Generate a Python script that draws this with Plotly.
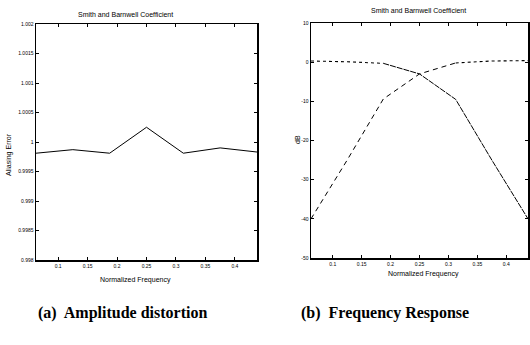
import plotly.graph_objects as go

freq = [0.0625, 0.125, 0.1875, 0.25, 0.3125, 0.375, 0.4375]
aliasing_error = [0.99981, 0.99987, 0.99981, 1.00025, 0.99981, 0.99990, 0.99983]
lowpass_db = [0.3, 0.1, -0.3, -3.0, -9.5, -25.0, -40.0]
highpass_db = [-40.0, -25.0, -9.4, -3.0, -0.2, 0.3, 0.4]

x_ticks = [0.1, 0.15, 0.2, 0.25, 0.3, 0.35, 0.4]
x_ticktext = ["0.1", "0.15", "0.2", "0.25", "0.3", "0.35", "0.4"]
yl_ticks = [0.998, 0.9985, 0.999, 0.9995, 1.0, 1.0005, 1.001, 1.0015, 1.002]
yl_ticktext = ["0.998", "0.9985", "0.999", "0.9995", "1", "1.0005", "1.001", "1.0015", "1.002"]
yr_ticks = [-50, -40, -30, -20, -10, 0, 10]
yr_ticktext = ["-50", "-40", "-30", "-20", "-10", "0", "10"]

W, H = 530, 345
def px(x):
    return x / W
def py(y):
    return 1 - y / H

fig = go.Figure()
fig.add_trace(go.Scatter(x=freq, y=aliasing_error, mode="lines",
                         line=dict(color="black", width=1.0),
                         xaxis="x", yaxis="y", showlegend=False))
# lowpass: dotted near 0 dB, near-solid when falling
fig.add_trace(go.Scatter(x=freq[:3], y=lowpass_db[:3], mode="lines",
                         line=dict(color="black", width=1.1, dash="dot"),
                         xaxis="x2", yaxis="y2", showlegend=False))
fig.add_trace(go.Scatter(x=freq[2:], y=lowpass_db[2:], mode="lines",
                         line=dict(color="black", width=1.0, dash="6px,1px"),
                         xaxis="x2", yaxis="y2", showlegend=False))
# highpass: dashed when rising, dotted near 0 dB
fig.add_trace(go.Scatter(x=freq[:5], y=highpass_db[:5], mode="lines",
                         line=dict(color="black", width=1.0, dash="5px,4px"),
                         xaxis="x2", yaxis="y2", showlegend=False))
fig.add_trace(go.Scatter(x=freq[4:], y=highpass_db[4:], mode="lines",
                         line=dict(color="black", width=1.1, dash="dot"),
                         xaxis="x2", yaxis="y2", showlegend=False))

tickfont = dict(family="Liberation Sans", size=5, color="black")
common_x = dict(range=[0.0625, 0.4375], tickvals=x_ticks, ticktext=x_ticktext,
                ticks="inside", ticklen=3, tickcolor="black", tickwidth=1,
                showline=True, linecolor="black", linewidth=1.5, mirror="ticks",
                showgrid=False, zeroline=False, tickfont=tickfont, automargin=False)
common_y = dict(ticks="inside", ticklen=3, tickcolor="black", tickwidth=1,
                showline=True, linecolor="black", linewidth=1.5, mirror="ticks",
                showgrid=False, zeroline=False, tickfont=tickfont, automargin=False)

fig.update_layout(
    width=W, height=H,
    margin=dict(l=0, r=0, t=0, b=0, autoexpand=False),
    paper_bgcolor="white", plot_bgcolor="white",
    xaxis=dict(domain=[px(36), px(257)], anchor="y", **common_x),
    yaxis=dict(domain=[py(260), py(24)], anchor="x",
               range=[0.998, 1.002], tickvals=yl_ticks, ticktext=yl_ticktext, **common_y),
    xaxis2=dict(domain=[px(311), px(528)], anchor="y2", **common_x),
    yaxis2=dict(domain=[py(258), py(23)], anchor="x2",
                range=[-50, 10], tickvals=yr_ticks, ticktext=yr_ticktext, **common_y),
)

small = dict(family="Liberation Sans", size=7, color="black")
cap = dict(family="Liberation Serif", size=16, color="black")
ann = [
    dict(text="Smith and Barnwell Coefficient", x=px(125), y=py(15), font=small),
    dict(text="Smith and Barnwell Coefficient", x=px(418), y=py(10), font=small),
    dict(text="Normalized Frequency", x=px(135), y=py(280), font=small),
    dict(text="Normalized Frequency", x=px(423), y=py(274), font=small),
    dict(text="Aliasing Error", x=px(9), y=py(155), font=small, textangle=-90),
    dict(text="dB", x=px(297), y=py(140), font=small, textangle=-90),
    dict(text="<b>(a)  Amplitude distortion</b>", x=px(122), y=py(313), font=cap),
    dict(text="<b>(b)  Frequency Response</b>", x=px(385), y=py(313), font=cap),
]
for a in ann:
    fig.add_annotation(xref="paper", yref="paper", showarrow=False,
                       xanchor="center", yanchor="middle", **a)

fig.write_html("out.html",
               config={"displayModeBar": False, "staticPlot": True},
               post_script="document.body.style.margin='0';document.body.style.overflow='hidden';")
